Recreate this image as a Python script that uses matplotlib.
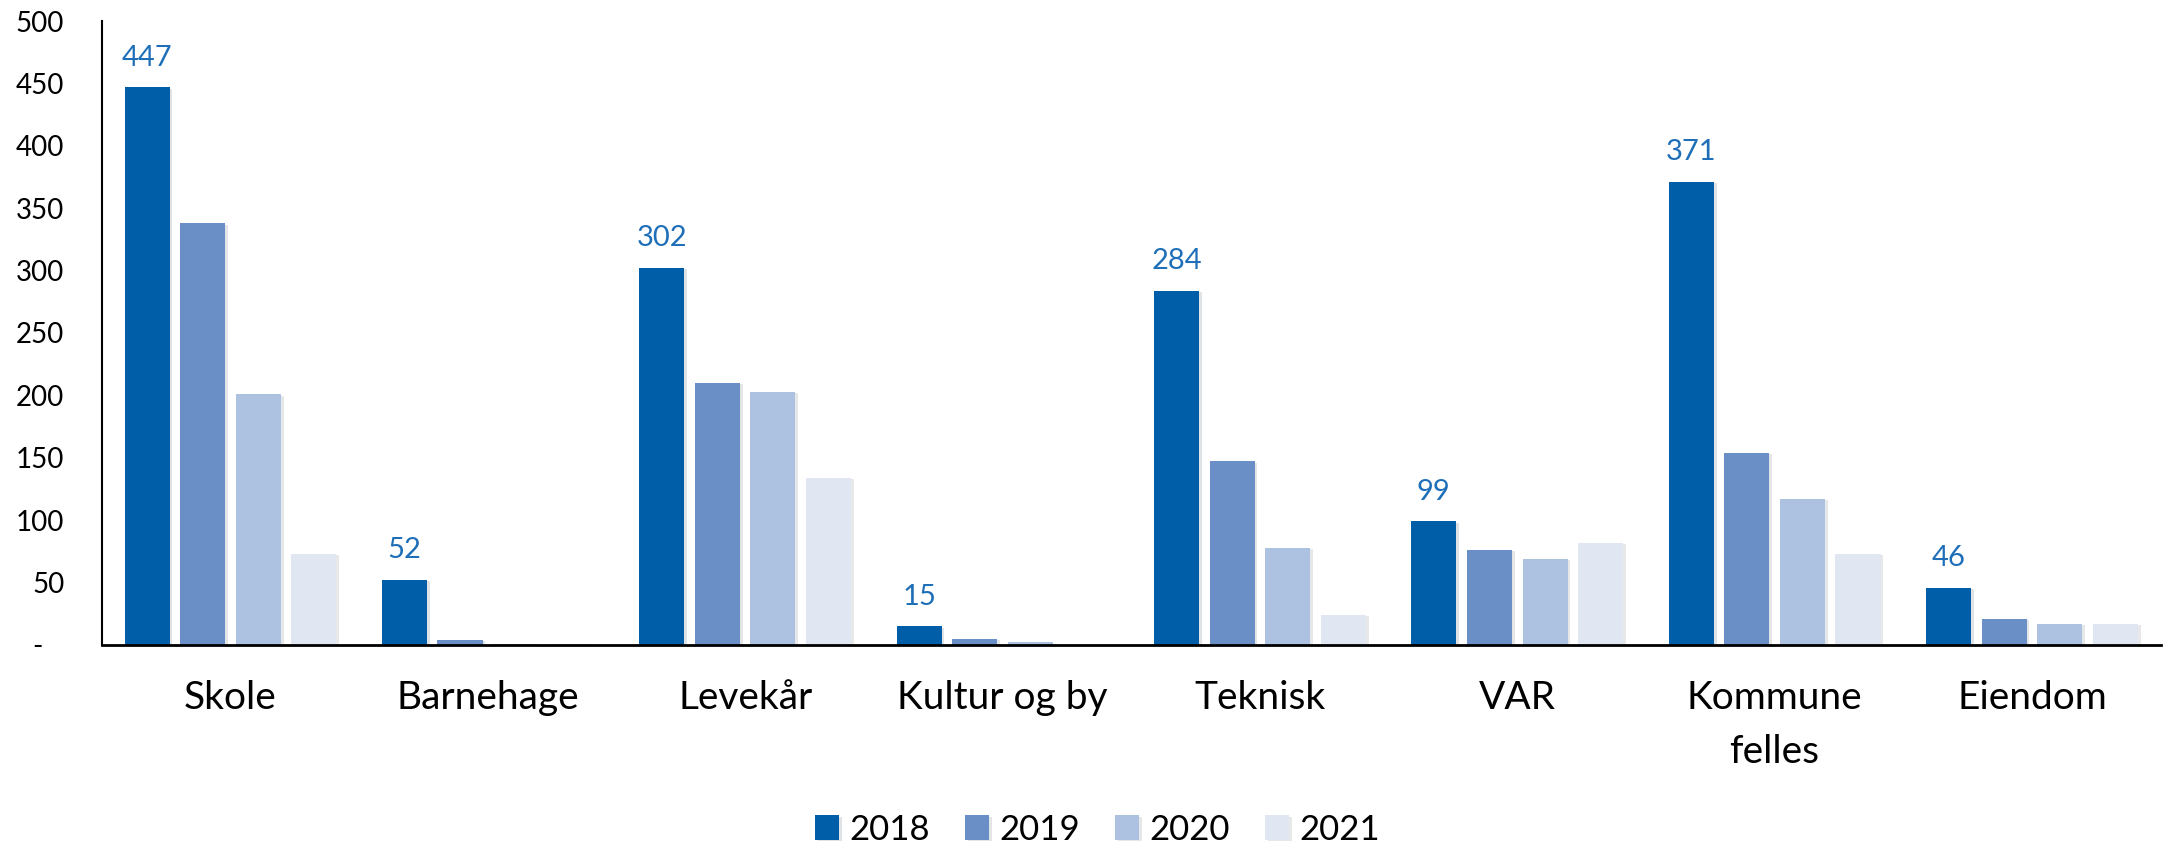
import numpy as np
import matplotlib
matplotlib.use('Agg')
import matplotlib.pyplot as plt
import matplotlib.patheffects as pe

plt.rcParams['font.family'] = ['Lato', 'DejaVu Sans']

categories = ['Skole', 'Barnehage', 'Levekår', 'Kultur og by', 'Teknisk', 'VAR', 'Kommune\nfelles', 'Eiendom']
years = ['2018', '2019', '2020', '2021']
v2018 = [447, 52, 302, 15, 284, 99, 371, 46]
v2019 = [338, 4, 210, 5, 147, 76, 154, 21]
v2020 = [201, 1, 203, 2, 78, 69, 117, 17]
v2021 = [73, 1, 134, 0, 24, 82, 73, 17]
colors = ['#005ea8', '#6a8fc7', '#adc2e1', '#e0e7f3']
label_color = '#1f6fb8'

series = [v2018, v2019, v2020, v2021]

fig = plt.figure(figsize=(21.65, 8.43), dpi=100)
ax = fig.add_axes([0.047, 0.235, 0.951, 0.74])

x = np.arange(len(categories)) + 0.5
step = 0.216
width = 0.175
shadow = [pe.SimplePatchShadow(offset=(2, -1), alpha=0.12), pe.Normal()]
for i, (vals, col) in enumerate(zip(series, colors)):
    pos = x + (i - 1.5) * step
    bars = ax.bar(pos, vals, width=width, color=col, label=years[i], zorder=2)
    for b in bars:
        b.set_path_effects(shadow)
    if i == 0:
        for p, v in zip(pos, vals):
            ax.annotate(str(v), (p, v), xytext=(0, 12), textcoords='offset points',
                        ha='center', va='bottom', fontsize=21, color=label_color)

ax.set_xlim(0, len(categories))
ax.set_ylim(0, 500)
ax.set_yticks(range(0, 501, 50))
ax.set_yticklabels(['-   '] + [str(t) for t in range(50, 501, 50)], fontsize=20)
ax.set_xticks(x)
ax.set_xticklabels(categories, fontsize=28, linespacing=1.65)
ax.tick_params(axis='y', length=0, pad=27)
ax.tick_params(axis='x', length=0, pad=25)
for s in ['top', 'right']:
    ax.spines[s].set_visible(False)
ax.spines['left'].set_linewidth(1.5)
ax.spines['bottom'].set_linewidth(2)

fig.legend(loc='center', bbox_to_anchor=(0.507, 0.016), ncol=4, frameon=False,
           fontsize=25, handlelength=0.7, handleheight=0.7, handletextpad=0.3,
           columnspacing=1.0)

fig.savefig('out.png', dpi=100)
